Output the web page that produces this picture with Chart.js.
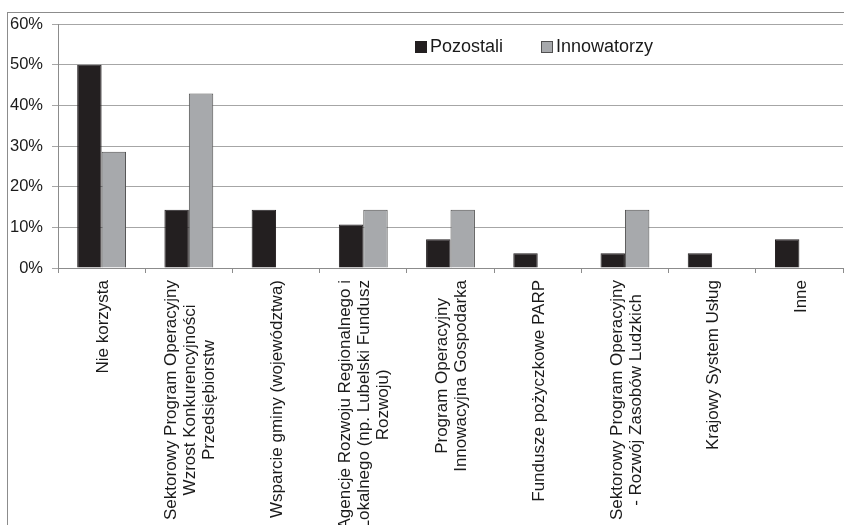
<!DOCTYPE html>
<html lang="pl">
<head>
<meta charset="utf-8">
<title>Źródła finansowania</title>
<script src="https://cdn.jsdelivr.net/npm/chart.js@4/dist/chart.umd.min.js"></script>
<style>
    html, body { margin: 0; padding: 0; background: #fff; }
    body { width: 844px; height: 525px; overflow: hidden; position: relative; }
    #frame {
        position: absolute; left: 7px; top: 12px;
        width: 836px; height: 512px;
        border-left: 1px solid #8c8c8c; border-top: 1px solid #8c8c8c;
    }
    #legend {
        position: absolute; left: 415px; top: 36px;
        display: flex; align-items: center;
        font: 18px "Liberation Sans", Arial, sans-serif; color: #1a1a1a;
    }
    #legend .item { display: flex; align-items: center; margin-right: 38px; }
    #legend .box { width: 10px; height: 10px; border: 1px solid; margin-right: 3px; }
</style>
</head>
<body>
<div id="frame"><canvas id="fundsChart"></canvas></div>
<div id="legend"></div>
<script>
const categories = [
    ['Nie korzysta'],
    ['Sektorowy Program Operacyjny', 'Wzrost Konkurencyjności', 'Przedsiębiorstw'],
    ['Wsparcie gminy (województwa)'],
    ['Agencje Rozwoju Regionalnego i', 'Lokalnego (np. Lubelski Fundusz', 'Rozwoju)'],
    ['Program Operacyjny', 'Innowacyjna Gospodarka'],
    ['Fundusze pożyczkowe PARP'],
    ['Sektorowy Program Operacyjny', '- Rozwój Zasobów Ludzkich'],
    ['Krajowy System Usług'],
    ['Inne']
];
const pozostali = [50, 14.3, 14.3, 10.7, 7.1, 3.6, 3.6, 3.6, 7.1];
const innowatorzy = [28.6, 42.9, 0, 14.3, 14.3, 0, 14.3, 0, 0];
const yTicks = [0, 10, 20, 30, 40, 50, 60];

const FONT = '"Liberation Sans", Arial, sans-serif';

// rotated category names, lines centred on each other
const categoryLabels = {
    id: 'categoryLabels',
    afterDraw(chart) {
        const ctx = chart.ctx;
        const x = chart.scales.x;
        ctx.save();
        ctx.font = '17px ' + FONT;
        ctx.fillStyle = '#1a1a1a';
        ctx.textAlign = 'center';
        ctx.textBaseline = 'middle';
        categories.forEach((lines, i) => {
            const w = Math.max(...lines.map(l => ctx.measureText(l).width));
            ctx.save();
            ctx.translate(x.getPixelForValue(i) + 1.5, x.top + 12 + w / 2);
            ctx.rotate(-Math.PI / 2);
            lines.forEach((line, k) => {
                ctx.fillText(line, 0, (k - (lines.length - 1) / 2) * 19);
            });
            ctx.restore();
        });
        ctx.restore();
    }
};

const ctx = document.getElementById('fundsChart').getContext('2d');
const fundsChart = new Chart(ctx, {
    type: 'bar',
    data: {
        labels: categories.map(c => c.join(' ')),
        datasets: [{
            label: 'Pozostali',
            data: pozostali,
            backgroundColor: '#231f20',
            borderColor: '#231f20',
            borderWidth: 1
        }, {
            label: 'Innowatorzy',
            data: innowatorzy,
            backgroundColor: '#a7a9ac',
            borderColor: '#505050',
            borderWidth: 1
        }]
    },
    options: {
        responsive: true,
        maintainAspectRatio: false,
        animation: false,
        categoryPercentage: 0.56,
        barPercentage: 1,
        layout: { padding: { top: 11, right: 1, left: 0, bottom: 0 } },
        plugins: {
            legend: { display: false },
            tooltip: { enabled: false }
        },
        scales: {
            x: {
                ticks: { display: false },
                grid: {
                    offset: true,
                    drawOnChartArea: false,
                    drawTicks: true,
                    tickLength: 5,
                    color: '#8c8c8c'
                },
                border: { color: '#8c8c8c' },
                afterFit(scale) { scale.height = 257; }
            },
            y: {
                min: 0,
                max: 60,
                afterBuildTicks(scale) { scale.ticks = yTicks.map(v => ({ value: v })); },
                ticks: {
                    padding: 9,
                    color: '#1a1a1a',
                    font: { family: FONT, size: 16.5 },
                    callback: v => v + '%'
                },
                grid: { color: '#a6a6a6', tickLength: 6 },
                border: { color: '#8c8c8c' },
                afterFit(scale) {
                    scale.width = 50;
                    scale.paddingTop = 0;
                    scale.paddingBottom = 0;
                }
            }
        }
    },
    plugins: [categoryLabels]
});

// legend built from the datasets
const legendEl = document.getElementById('legend');
fundsChart.data.datasets.forEach(ds => {
    const item = document.createElement('div');
    item.className = 'item';
    const box = document.createElement('span');
    box.className = 'box';
    box.style.background = ds.backgroundColor;
    box.style.borderColor = ds.borderColor;
    item.appendChild(box);
    item.appendChild(document.createTextNode(ds.label));
    legendEl.appendChild(item);
});
</script>
</body>
</html>
